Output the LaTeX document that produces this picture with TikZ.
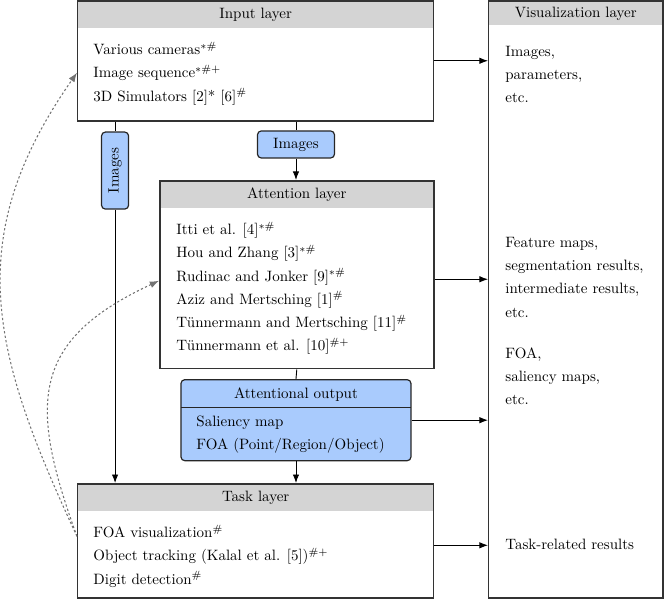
\documentclass[tikz,border=0pt]{standalone}
\usetikzlibrary{arrows.meta, positioning, calc}
\definecolor{headgray}{HTML}{D4D4D4}
\definecolor{outblue}{HTML}{A9CBFD}

\begin{document}
\begin{tikzpicture}[>=Latex, line width=0.6pt,
  layer/.style={rectangle, draw=black!80, line width=1pt, anchor=north west, inner sep=0pt,
    path picture={\fill[headgray] (path picture bounding box.north west)
      rectangle ([yshift=-#1]path picture bounding box.north east);}},
  layer/.default=18pt,
  headtext/.style={inner sep=0pt},
  entries/.style={align=left, anchor=north west, inner sep=0pt},
  tag/.style={rectangle, rounded corners=2.5pt, draw=black!85, line width=0.8pt, fill=outblue,
    minimum width=51.3pt, minimum height=18pt, inner sep=0pt},
  feedback/.style={->, black!55, dash pattern=on 1.5pt off 1.5pt, line width=0.7pt}]

  \useasboundingbox (0,0) rectangle (443.3pt,-400pt);

  % layers
  \node[layer, minimum width=237.3pt, minimum height=80pt] (input) at (51.3pt,0) {};
  \node[layer=16pt, minimum width=116pt, minimum height=398pt] (vis) at (325.3pt,0) {};
  \node[layer, minimum width=182.7pt, minimum height=125.3pt] (attention) at (106pt,-120pt) {};
  \node[layer, minimum width=237.3pt, minimum height=76pt] (task) at (51.3pt,-322pt) {};

  \node[headtext] (inputhead) at ([yshift=-10pt]input.north) {Input layer};
  \node[headtext] (vishead) at ([yshift=-9pt]vis.north) {Visualization layer};
  \node[headtext] (attentionhead) at ([yshift=-10pt]attention.north) {Attention layer};
  \node[headtext] (taskhead) at ([yshift=-10pt]task.north) {Task layer};

  \node[entries, below right=27.6pt and 10.7pt of input.north west] (inputlist)
    {Various cameras$^{*\#}$\\[3.5pt] Image sequence$^{*\#+}$\\[3.5pt] 3D Simulators [2]* [6]$^{\#}$};
  \node[entries, below right=27.6pt and 11.3pt of attention.north west] (attentionlist)
    {Itti et al. [4]$^{*\#}$\\[3.5pt] Hou and Zhang [3]$^{*\#}$\\[3.5pt] Rudinac and Jonker [9]$^{*\#}$\\[3.5pt]
     Aziz and Mertsching [1]$^{\#}$\\[3.5pt] T\"unnermann and Mertsching [11]$^{\#}$\\[3.5pt] T\"unnermann et al. [10]$^{\#+}$};
  \node[entries, below right=27.6pt and 10.7pt of task.north west] (tasklist)
    {FOA visualization$^{\#}$\\[3.5pt] Object tracking (Kalal et al. [5])$^{\#+}$\\[3.5pt] Digit detection$^{\#}$};

  % attentional output
  \node[tag, minimum width=153.3pt, minimum height=54pt, anchor=north,
    path picture={\draw[line width=0.8pt] ([yshift=-18.7pt]path picture bounding box.north west)
      -- ([yshift=-18.7pt]path picture bounding box.north east);}] (output) at (197.3pt,-252.7pt) {};
  \node[headtext] (outputhead) at ([yshift=-10pt]output.north) {Attentional output};
  \node[entries, below right=24.4pt and 10.4pt of output.north west] (outputlist)
    {Saliency map\\[3.5pt] FOA (Point/Region/Object)};

  % image tags
  \node[tag] (imgh) at (197.3pt,-96.3pt) {Images};
  \node[tag, rotate=90] (imgv) at (76.7pt,-113.7pt) {Images};

  % visualization texts
  \node[entries] (visinput) at ([xshift=11.3pt, yshift=-30.5pt]vis.north west)
    {Images,\\[3.5pt] parameters,\\[3.5pt] etc.};
  \node[entries] (visattention) at ([xshift=11.3pt, yshift=-157.8pt]vis.north west)
    {Feature maps,\\[3.5pt] segmentation results,\\[3.5pt] intermediate results,\\[3.5pt] etc.};
  \node[entries] (visoutput) at ([xshift=11.3pt, yshift=-231.2pt]vis.north west)
    {FOA,\\[3.5pt] saliency maps,\\[3.5pt] etc.};
  \node[entries] (vistask) at ([xshift=11.3pt, yshift=-359pt]vis.north west)
    {Task-related results};

  % data flow
  \draw (input.south -| imgv.center) -- (imgv);
  \draw[->] (imgv) -- (task.north -| imgv.center);
  \draw (input.south -| imgh.center) -- (imgh);
  \draw[->] (imgh) -- (imgh |- attention.north);
  \draw (attention.south) -- (output.north);
  \draw[->] (output.south) -- (output.south |- task.north);

  \draw[->] (input.east) -- (input.east -| vis.west);
  \draw[->] ([yshift=-3pt]attention.east) -- ([yshift=-3pt]attention.east -| vis.west);
  \draw[->] (output.east) -- (output.east -| vis.west);
  \draw[->] ([yshift=-3pt]task.east) -- ([yshift=-3pt]task.east -| vis.west);

  % feedback
  \draw[feedback] ([yshift=3pt]task.west) to[out=115, in=235, looseness=1.12] ([yshift=-8pt]input.west);
  \draw[feedback] ([yshift=3pt]task.west) to[out=110, in=205, looseness=1.35] ([yshift=-4pt]attention.west);
\end{tikzpicture}
\end{document}
